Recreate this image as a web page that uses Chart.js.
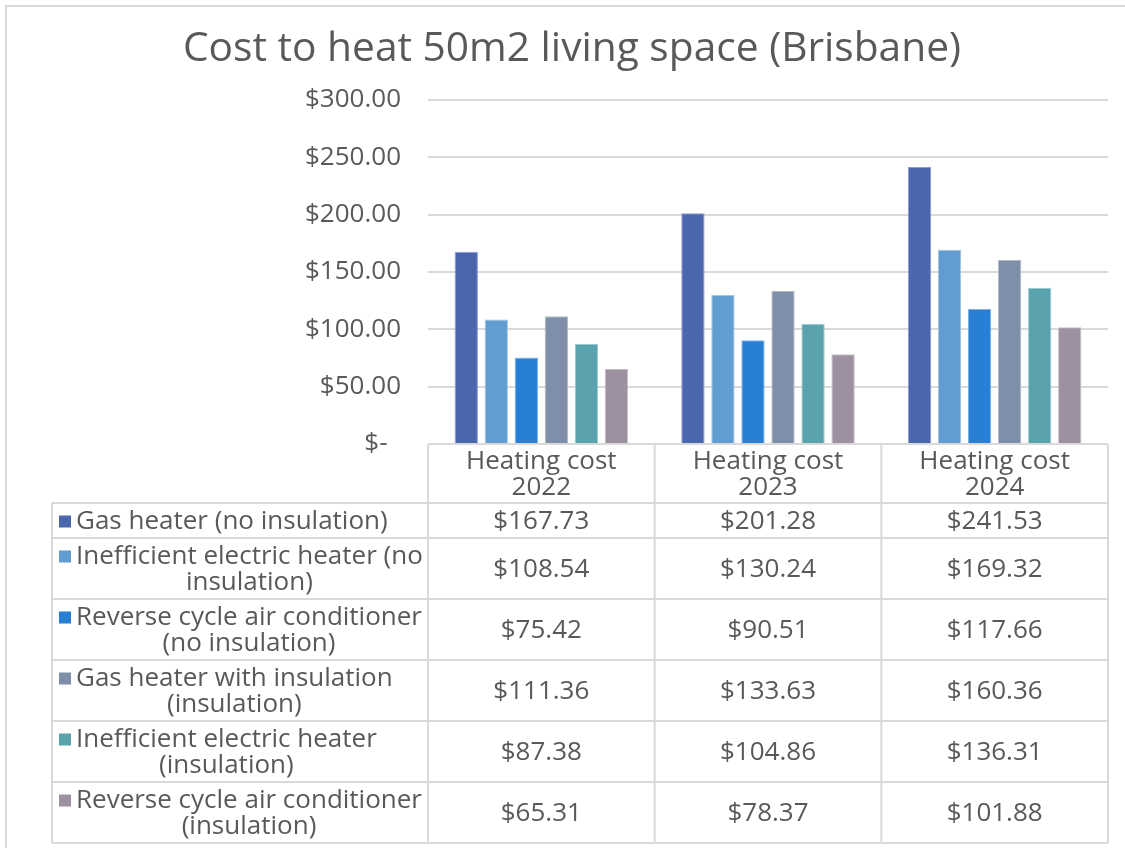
<!DOCTYPE html>
<html>
<head>
<meta charset="utf-8">
<script src="https://cdn.jsdelivr.net/npm/chart.js@4/dist/chart.umd.min.js"></script>
<style>
  html, body { margin: 0; padding: 0; background: #fff; }
  #wrap { width: 1125px; height: 848px; }
</style>
</head>
<body>
<div id="wrap"><canvas id="heatChart" width="1125" height="848"></canvas></div>
<script>
// chart data
const chartTitle = 'Cost to heat 50m2 living space (Brisbane)';
const years = [['Heating cost', '2022'], ['Heating cost', '2023'], ['Heating cost', '2024']];
const seriesNames = [
  ['Gas heater (no insulation)'],
  ['Inefficient electric heater (no', 'insulation)'],
  ['Reverse cycle air conditioner', '(no insulation)'],
  ['Gas heater with insulation', '(insulation)'],
  ['Inefficient electric heater', '(insulation)'],
  ['Reverse cycle air conditioner', '(insulation)']
];
const gasNoIns = [167.73, 201.28, 241.53];
const elecNoIns = [108.54, 130.24, 169.32];
const rcacNoIns = [75.42, 90.51, 117.66];
const gasIns = [111.36, 133.63, 160.36];
const elecIns = [87.38, 104.86, 136.31];
const rcacIns = [65.31, 78.37, 101.88];
const yTicks = [0, 50, 100, 150, 200, 250, 300];

const seriesData = [gasNoIns, elecNoIns, rcacNoIns, gasIns, elecIns, rcacIns];
const fills = ['#4a66ac', '#629dd1', '#297fd5', '#7f8fa9', '#5aa2ae', '#9d90a0'];
const edges = ['#8a9ccb', '#a1c4e3', '#7eb2e6', '#b2bccb', '#9cc7ce', '#c4bcc6'];

const textColor = '#595959';
const lineColor = '#d9d9d9';
const fontName = '"Open Sans"';

function money(v) {
  return v === 0 ? '$-  ' : '$' + v.toFixed(2);
}

const tablePlugin = {
  id: 'dataTable',
  afterDraw(chart) {
    const ctx = chart.ctx;
    const area = chart.chartArea;
    const xs = chart.scales.x;
    const colW = (area.right - area.left) / years.length;
    const legLeft = 52;
    const headH = 59;
    const lineH = 26;

    ctx.save();
    // outer chart border
    ctx.strokeStyle = lineColor;
    ctx.lineWidth = 2;
    ctx.strokeRect(6, 6, 1300, 1000);

    // title
    ctx.fillStyle = textColor;
    ctx.font = '40.7px ' + fontName;
    ctx.textAlign = 'center';
    ctx.textBaseline = 'middle';
    ctx.fillText(chartTitle, 572, 49);

    // row boundaries
    const rowTops = [area.bottom + headH];
    seriesNames.forEach(n => rowTops.push(rowTops[rowTops.length - 1] + 9 + lineH * n.length));
    const tableBottom = rowTops[rowTops.length - 1];

    ctx.beginPath();
    ctx.moveTo(area.left, area.bottom);
    ctx.lineTo(area.right, area.bottom);
    for (let i = 0; i <= years.length; i++) {
      const x = area.left + colW * i;
      ctx.moveTo(x, area.bottom);
      ctx.lineTo(x, tableBottom);
    }
    rowTops.forEach(y => {
      ctx.moveTo(legLeft, y);
      ctx.lineTo(area.right, y);
    });
    ctx.moveTo(legLeft, rowTops[0]);
    ctx.lineTo(legLeft, tableBottom);
    ctx.stroke();

    ctx.font = '26px ' + fontName;
    ctx.fillStyle = textColor;
    // header labels
    years.forEach((lab, i) => {
      const cx = xs.getPixelForValue(i);
      const cy = area.bottom + headH / 2 + 1;
      lab.forEach((t, k) => {
        ctx.fillText(t, cx, cy + (k - (lab.length - 1) / 2) * lineH);
      });
    });

    // series rows
    seriesNames.forEach((name, r) => {
      const top = rowTops[r];
      const h = rowTops[r + 1] - top;
      const cy = top + h / 2 + 1;
      const firstY = cy - (name.length - 1) / 2 * lineH;
      ctx.fillStyle = fills[r];
      ctx.fillRect(59, firstY - 6, 12, 12);
      // label lines centred on the widest one
      ctx.fillStyle = textColor;
      const w = Math.max(...name.map(t => ctx.measureText(t).width));
      name.forEach((t, k) => {
        ctx.fillText(t, 76 + w / 2, firstY + k * lineH);
      });
      seriesData[r].forEach((v, i) => {
        ctx.fillText(money(v), xs.getPixelForValue(i), cy);
      });
    });
    ctx.restore();
  }
};

new Chart('heatChart', {
  type: 'bar',
  data: {
    labels: years,
    datasets: seriesNames.map((n, i) => ({
      label: n.join(' '),
      data: seriesData[i],
      backgroundColor: fills[i],
      borderColor: edges[i],
      borderWidth: 1,
      categoryPercentage: 0.795,
      barPercentage: 0.777
    }))
  },
  options: {
    responsive: false,
    animation: false,
    layout: { padding: { top: 100, left: 0, right: 17, bottom: 404 } },
    scales: {
      x: { display: false },
      y: {
        min: yTicks[0],
        max: yTicks[yTicks.length - 1],
        afterFit(scale) { scale.width = 428; },
        afterBuildTicks(scale) { scale.ticks = yTicks.map(v => ({ value: v })); },
        border: { display: false },
        grid: { color: lineColor, lineWidth: 2, drawTicks: false },
        ticks: {
          padding: 27,
          color: textColor,
          font: { family: 'Open Sans', size: 26 },
          callback: v => money(v)
        }
      }
    },
    plugins: {
      legend: { display: false },
      title: { display: false },
      tooltip: { enabled: false }
    }
  },
  plugins: [tablePlugin]
});
</script>
</body>
</html>
